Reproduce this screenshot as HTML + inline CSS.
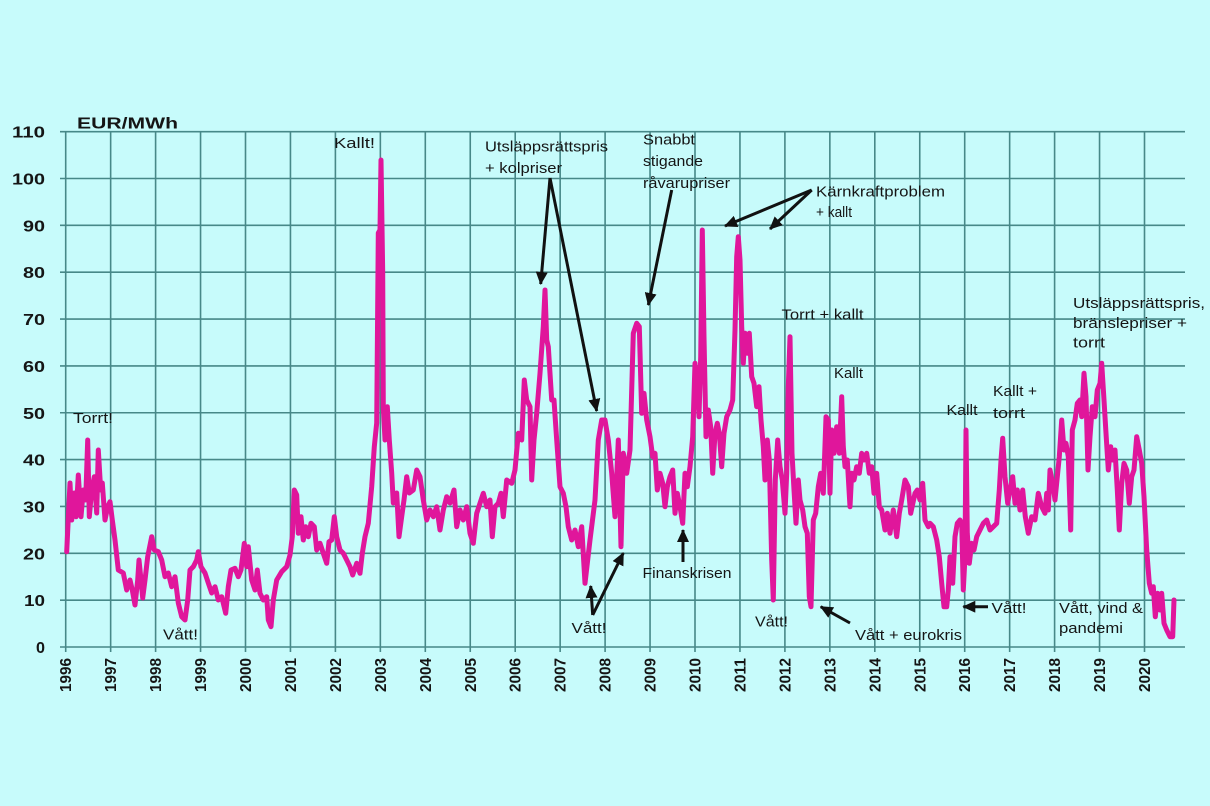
<!DOCTYPE html>
<html><head><meta charset="utf-8"><style>
html,body{margin:0;padding:0;background:#c7fbfb;}
svg{display:block;}
.g{stroke:#478888;stroke-width:1.6;fill:none;}
.a{font-family:"Liberation Sans",sans-serif;font-size:15px;fill:#151515;}
.b{font-family:"Liberation Sans",sans-serif;font-size:16px;font-weight:bold;fill:#151515;}
.ar{stroke:#111;stroke-width:3;fill:none;marker-end:url(#ah);}
</style></head><body>
<svg width="1210" height="806" viewBox="0 0 1210 806" xmlns="http://www.w3.org/2000/svg">
<defs>
<marker id="ah" markerUnits="userSpaceOnUse" markerWidth="14" markerHeight="12" refX="12" refY="6" orient="auto">
<path d="M0,0 L13,6 L0,12 z" fill="#111"/>
</marker>
</defs>
<rect width="1210" height="806" fill="#c7fbfb"/>
<g class="g">
<line x1="60" y1="647" x2="1185" y2="647"/>
<line x1="60" y1="600.15" x2="1185" y2="600.15"/>
<line x1="60" y1="553.3" x2="1185" y2="553.3"/>
<line x1="60" y1="506.45" x2="1185" y2="506.45"/>
<line x1="60" y1="459.6" x2="1185" y2="459.6"/>
<line x1="60" y1="412.75" x2="1185" y2="412.75"/>
<line x1="60" y1="365.9" x2="1185" y2="365.9"/>
<line x1="60" y1="319.05" x2="1185" y2="319.05"/>
<line x1="60" y1="272.2" x2="1185" y2="272.2"/>
<line x1="60" y1="225.35" x2="1185" y2="225.35"/>
<line x1="60" y1="178.5" x2="1185" y2="178.5"/>
<line x1="60" y1="131.65" x2="1185" y2="131.65"/>
<line x1="65.7" y1="131.6" x2="65.7" y2="652"/>
<line x1="110.65" y1="131.6" x2="110.65" y2="652"/>
<line x1="155.6" y1="131.6" x2="155.6" y2="652"/>
<line x1="200.55" y1="131.6" x2="200.55" y2="652"/>
<line x1="245.5" y1="131.6" x2="245.5" y2="652"/>
<line x1="290.45" y1="131.6" x2="290.45" y2="652"/>
<line x1="335.4" y1="131.6" x2="335.4" y2="652"/>
<line x1="380.35" y1="131.6" x2="380.35" y2="652"/>
<line x1="425.3" y1="131.6" x2="425.3" y2="652"/>
<line x1="470.25" y1="131.6" x2="470.25" y2="652"/>
<line x1="515.2" y1="131.6" x2="515.2" y2="652"/>
<line x1="560.15" y1="131.6" x2="560.15" y2="652"/>
<line x1="605.1" y1="131.6" x2="605.1" y2="652"/>
<line x1="650.05" y1="131.6" x2="650.05" y2="652"/>
<line x1="695" y1="131.6" x2="695" y2="652"/>
<line x1="739.95" y1="131.6" x2="739.95" y2="652"/>
<line x1="784.9" y1="131.6" x2="784.9" y2="652"/>
<line x1="829.85" y1="131.6" x2="829.85" y2="652"/>
<line x1="874.8" y1="131.6" x2="874.8" y2="652"/>
<line x1="919.75" y1="131.6" x2="919.75" y2="652"/>
<line x1="964.7" y1="131.6" x2="964.7" y2="652"/>
<line x1="1009.65" y1="131.6" x2="1009.65" y2="652"/>
<line x1="1054.6" y1="131.6" x2="1054.6" y2="652"/>
<line x1="1099.55" y1="131.6" x2="1099.55" y2="652"/>
<line x1="1144.5" y1="131.6" x2="1144.5" y2="652"/>
</g>

<!-- Y labels -->
<g class="b" text-anchor="end">
<text x="45" y="653" textLength="9" lengthAdjust="spacingAndGlyphs">0</text>
<text x="45" y="606.2" textLength="21" lengthAdjust="spacingAndGlyphs">10</text>
<text x="45" y="559.3" textLength="22" lengthAdjust="spacingAndGlyphs">20</text>
<text x="45" y="512.5" textLength="22" lengthAdjust="spacingAndGlyphs">30</text>
<text x="45" y="465.6" textLength="22" lengthAdjust="spacingAndGlyphs">40</text>
<text x="45" y="418.8" textLength="22" lengthAdjust="spacingAndGlyphs">50</text>
<text x="45" y="371.9" textLength="22" lengthAdjust="spacingAndGlyphs">60</text>
<text x="45" y="325.1" textLength="22" lengthAdjust="spacingAndGlyphs">70</text>
<text x="45" y="278.2" textLength="22" lengthAdjust="spacingAndGlyphs">80</text>
<text x="45" y="231.4" textLength="22" lengthAdjust="spacingAndGlyphs">90</text>
<text x="45" y="184.5" textLength="33" lengthAdjust="spacingAndGlyphs">100</text>
<text x="45" y="137.7" textLength="33" lengthAdjust="spacingAndGlyphs">110</text>
</g>
<text class="b" x="77" y="128.5" textLength="101" lengthAdjust="spacingAndGlyphs">EUR/MWh</text>

<!-- X labels -->
<g class="b">
<text transform="translate(71.2,692) rotate(-90)" textLength="34" lengthAdjust="spacingAndGlyphs">1996</text>
<text transform="translate(116.15,692) rotate(-90)" textLength="34" lengthAdjust="spacingAndGlyphs">1997</text>
<text transform="translate(161.1,692) rotate(-90)" textLength="34" lengthAdjust="spacingAndGlyphs">1998</text>
<text transform="translate(206.05,692) rotate(-90)" textLength="34" lengthAdjust="spacingAndGlyphs">1999</text>
<text transform="translate(251,692) rotate(-90)" textLength="34" lengthAdjust="spacingAndGlyphs">2000</text>
<text transform="translate(295.95,692) rotate(-90)" textLength="34" lengthAdjust="spacingAndGlyphs">2001</text>
<text transform="translate(340.9,692) rotate(-90)" textLength="34" lengthAdjust="spacingAndGlyphs">2002</text>
<text transform="translate(385.85,692) rotate(-90)" textLength="34" lengthAdjust="spacingAndGlyphs">2003</text>
<text transform="translate(430.8,692) rotate(-90)" textLength="34" lengthAdjust="spacingAndGlyphs">2004</text>
<text transform="translate(475.75,692) rotate(-90)" textLength="34" lengthAdjust="spacingAndGlyphs">2005</text>
<text transform="translate(520.7,692) rotate(-90)" textLength="34" lengthAdjust="spacingAndGlyphs">2006</text>
<text transform="translate(565.65,692) rotate(-90)" textLength="34" lengthAdjust="spacingAndGlyphs">2007</text>
<text transform="translate(610.6,692) rotate(-90)" textLength="34" lengthAdjust="spacingAndGlyphs">2008</text>
<text transform="translate(655.55,692) rotate(-90)" textLength="34" lengthAdjust="spacingAndGlyphs">2009</text>
<text transform="translate(700.5,692) rotate(-90)" textLength="34" lengthAdjust="spacingAndGlyphs">2010</text>
<text transform="translate(745.45,692) rotate(-90)" textLength="34" lengthAdjust="spacingAndGlyphs">2011</text>
<text transform="translate(790.4,692) rotate(-90)" textLength="34" lengthAdjust="spacingAndGlyphs">2012</text>
<text transform="translate(835.35,692) rotate(-90)" textLength="34" lengthAdjust="spacingAndGlyphs">2013</text>
<text transform="translate(880.3,692) rotate(-90)" textLength="34" lengthAdjust="spacingAndGlyphs">2014</text>
<text transform="translate(925.25,692) rotate(-90)" textLength="34" lengthAdjust="spacingAndGlyphs">2015</text>
<text transform="translate(970.2,692) rotate(-90)" textLength="34" lengthAdjust="spacingAndGlyphs">2016</text>
<text transform="translate(1015.15,692) rotate(-90)" textLength="34" lengthAdjust="spacingAndGlyphs">2017</text>
<text transform="translate(1060.1,692) rotate(-90)" textLength="34" lengthAdjust="spacingAndGlyphs">2018</text>
<text transform="translate(1105.05,692) rotate(-90)" textLength="34" lengthAdjust="spacingAndGlyphs">2019</text>
<text transform="translate(1150,692) rotate(-90)" textLength="34" lengthAdjust="spacingAndGlyphs">2020</text>
</g>

<!-- Series -->
<polyline fill="none" stroke="#e0169b" stroke-width="5" stroke-linejoin="round" stroke-linecap="round" points="
66.7,551.7 70,483 71.7,520 74.3,493 76,516.7 78.3,475 81,516.7 83.3,490 85.7,500 87.7,440 89.3,516.7 91.7,490 94.3,476.7 96.7,513 98.3,450 100.7,490 102.3,483 105,520 107.7,506.7 110,501.7 112.3,520 115,540 118.3,570 123.3,573 126.7,590 130,580 132.3,590 135,605 137.7,580 139,560 141,580 142.7,598 145,580 147.7,556.7 151.7,536.7 154.3,550 158.3,551.7 161.7,560 165,576.7 168.3,573 171.7,586.7 175,576.7 178.3,603 181.7,616.7 185,620 187.7,600 190,570 193.3,566.7 196.7,560 198.3,551.7 201,566.7 205,573 208.3,583 211.7,593 215,586.7 218.3,600 221.7,596.7 225.7,613.3 228.3,586.7 231,570 235,568.3 238.3,576.7 241,570 244.3,543.3 246.7,566.7 248.3,546.7 251.7,580 255,590 257.3,570 260,593.3 263.3,600 266.7,596.7 268.3,620 271,626.7 273.3,600 276.7,580 281.7,571.7 286.7,566.7 290,555 292.3,536.7 294.3,490 296.7,495 298.3,533.3 301,516.7 303.3,540 305.7,526.7 308.3,536.7 311,523.3 314.3,526.7 316.7,550 320,543.3 323.3,553.3 326.7,563.3 329,541.7 331.7,540 334.3,516.7 336.7,536.7 340,550 343.3,553.3 346.7,560 350,566.7 352.7,575 356.7,563.3 360,573.3
362.3,553.3 365,536.7 368.3,523.3 371.7,486.7 374.3,446.7 376.7,423 378.3,233 380,230 381,160 382.7,273 383.3,406.7 385,440 387.3,406.7 389.3,440 391.7,473 393.3,503 396.7,493 399,536.7 401.7,516.7 404,500 406.7,476.7 409.3,493 413.3,490 416.7,470 420,476.7 423.3,500 426.7,520 430,510 433.3,516.7 436.7,506.7 440,530 443.3,510 446.7,496.7 450,503 454,490 456.7,526.7 460,510 463.3,520 466.7,506.7 470,533.3 473.3,543.3 476.7,513.3 480,503.3 483.3,493.3 486.7,506.7 490,500 492.3,536.7 495,506.7 498.3,503.3 501,493.3 503.3,516.7 506.7,480 511.7,483.3 515,470 518.3,433.3 521.7,440 524.3,380 526.7,400 530,406.7 531.7,480 534,440 536.7,413.3 540,373.3 543.3,326.7 545,290 546.7,340 548.3,346.7 551.7,400 554,400 556.7,440 560,486.7 563.3,493.3 566,506.7 568.3,526.7 571.7,540 575,530 578.3,546.7 581.7,526.7 585,583.3 587.3,563.3 590,540 595,500 598.3,440 601.7,420 605,420 608.3,440 611.7,473.3 615,516.7 618.3,440 621,546.7 623.3,453.3 626.7,473.3 630,450
633.3,333.3 636.7,323.3 639.3,326.7 641.7,413.3 644,393.3 646.7,420 650,436.7 652.7,456.7 655,453.3 657.3,490 660,473.3 662.7,483.3 665,506.7 667.3,486.7 670,476.7 672.7,470 675,513.3 677.3,493.3 680,506.7 682.7,523.3 685,473.3 687.3,486.7 690,466.7 692.7,436.7 695,363.3 697.3,386.7 699,416.7 700.7,356.7 702.3,230 704,336.7 706,436.7 708.3,410 710.7,426.7 712.7,473.3 715,433.3 717.3,423.3 719.3,433.3 721.7,466.7 724,433.3 726.7,416.7 730,410 732.7,400 735,330 736.7,256.7 738.3,236.7 740,260 741.7,326.7 743.3,363.3 745,333.3 747.3,353.3 749.3,333.3 751.7,376.7 754,383.3 756.7,406.7 759,386.7 761,420 763.3,446.7 765,480 767.3,440 769.3,460 771.7,560 773.3,600 775.3,480 777.7,440 780,466.7 782.3,480 785,513.3 786.7,473.3 788.3,386.7 790,336.7 792,453.3 794,490 796,523.3 798.3,480 800,500 802.7,510 805,526.7 807.3,533.3 809.3,596.7 811,606.7 813.3,520 815.7,513.3 818.3,486.7 820.7,473.3 823.3,493.3 826,416.7 828.3,420 830,493.3 831.7,430 834,453.3 836.7,426.7 839.3,453.3 841.7,396.7 843.3,446.7 845,466.7 847.3,460 850,506.7 851.7,473.3 854,480 856.7,466.7 859.3,473.3 861.7,453.3 864,460 866.7,453.3 869.3,473.3 871.7,466.7 874,493.3 876.7,473.3 879.3,506.7 881.7,510 885,530 887.3,513.3 890,533.3 893.3,510 896.7,536.7 899.3,513.3 901.7,500 905,480 908.3,486.7 910.7,513.3 915,493.3 917.3,490 920,500 922.7,483.3 925,520 928.3,526.7
930,523.3 933.3,526.7 936.7,540 939.3,556.7 941.7,583.3 944,606.7 946.7,606.7 948.3,590 950,556.7 952.7,583.3 955,536.7 957.3,523.3 960,520 961.7,523.3 963.3,590 965,556.7 966,430 967.3,533.3 969.3,563.3 971.7,543.3 974,550 976.7,536.7 980,530 983.3,523.3 986.7,520 990,530 993.3,526.7 996.7,523.3 999.3,490 1001,460 1002.7,438.3 1005,476.7 1007.7,503.3 1010,490 1012.7,476.7 1015,503.3 1017.3,490 1020,510 1022.7,490 1025.3,516.7 1028.3,533.3 1031.7,516.7 1035,520 1038.3,493.3 1041.7,506.7 1045,513.3 1046.7,493.3 1048.3,510 1050,470 1052.7,483.3 1055,500 1057.3,476.7 1059.3,456.7 1061.7,420 1064,450 1066,443.3 1068.3,456.7 1070.7,530 1072.3,430 1075,420 1077.3,403.3 1080,400 1081.7,416.7 1084,373.3 1086,396.7 1088,470 1090,436.7 1092.3,406.7 1095,416.7 1097.3,390 1100,383.3 1101.7,363.3 1104,400 1106,433.3 1108.3,470 1110.7,446.7 1112.7,460 1115,450 1117.3,490 1119.3,530 1121.7,483.3 1124,463.3 1126.7,470 1129.3,503.3 1131.7,476.7 1134,470 1136.7,436.7 1139.3,450 1141.7,463.3 1144,496.7 1146.7,550 1149.3,583.3 1151.7,593.3 1153.3,586.7 1155.3,616.7 1157.7,593.3 1160,610 1161.7,593.3 1164,623.3 1166.7,630 1170,636.7 1172.7,636.7 1174,600"/>

<!-- Arrows -->
<line class="ar" x1="550" y1="178" x2="540.7" y2="284"/>
<line class="ar" x1="550" y1="178" x2="596.7" y2="411"/>
<line class="ar" x1="671.7" y1="190" x2="648.3" y2="305"/>
<line class="ar" x1="811.7" y1="190" x2="725" y2="226"/>
<line class="ar" x1="811.7" y1="190" x2="770" y2="229"/>
<line class="ar" x1="592.7" y1="615" x2="590.7" y2="586"/>
<line class="ar" x1="592.7" y1="615" x2="623.3" y2="553"/>
<line class="ar" x1="683" y1="562" x2="683" y2="530"/>
<line class="ar" x1="850" y1="623" x2="820.7" y2="606.7"/>
<line class="ar" x1="988" y1="606.7" x2="963.3" y2="606.7"/>

<!-- Annotations -->
<g class="a">
<text x="73" y="423" textLength="40" lengthAdjust="spacingAndGlyphs">Torrt!</text>
<text x="334" y="148" textLength="41" lengthAdjust="spacingAndGlyphs">Kallt!</text>
<text x="163" y="639.5" textLength="35" lengthAdjust="spacingAndGlyphs">Vått!</text>
<text x="485" y="151.5" textLength="123" lengthAdjust="spacingAndGlyphs">Utsläppsrättspris</text>
<text x="485" y="173" textLength="77" lengthAdjust="spacingAndGlyphs">+ kolpriser</text>
<text x="643" y="144.5" textLength="52" lengthAdjust="spacingAndGlyphs">Snabbt</text>
<text x="643" y="166" textLength="60" lengthAdjust="spacingAndGlyphs">stigande</text>
<text x="643" y="188" textLength="87" lengthAdjust="spacingAndGlyphs">råvarupriser</text>
<text x="816" y="196.5" textLength="129" lengthAdjust="spacingAndGlyphs">Kärnkraftproblem</text>
<text x="816" y="217" textLength="36" lengthAdjust="spacingAndGlyphs">+ kallt</text>
<text x="781.5" y="319.5" textLength="82" lengthAdjust="spacingAndGlyphs">Torrt + kallt</text>
<text x="834" y="378" textLength="29" lengthAdjust="spacingAndGlyphs">Kallt</text>
<text x="642.5" y="578" textLength="89" lengthAdjust="spacingAndGlyphs">Finanskrisen</text>
<text x="571.5" y="633" textLength="35" lengthAdjust="spacingAndGlyphs">Vått!</text>
<text x="755" y="626.5" textLength="33" lengthAdjust="spacingAndGlyphs">Vått!</text>
<text x="855" y="640" textLength="107" lengthAdjust="spacingAndGlyphs">Vått + eurokris</text>
<text x="991.5" y="613" textLength="35" lengthAdjust="spacingAndGlyphs">Vått!</text>
<text x="1059" y="613" textLength="84" lengthAdjust="spacingAndGlyphs">Vått, vind &amp;</text>
<text x="1059" y="633" textLength="64" lengthAdjust="spacingAndGlyphs">pandemi</text>
<text x="946.5" y="415" textLength="31" lengthAdjust="spacingAndGlyphs">Kallt</text>
<text x="993" y="396" textLength="44" lengthAdjust="spacingAndGlyphs">Kallt +</text>
<text x="993" y="418" textLength="32" lengthAdjust="spacingAndGlyphs">torrt</text>
<text x="1073" y="308" textLength="132" lengthAdjust="spacingAndGlyphs">Utsläppsrättspris,</text>
<text x="1073" y="328" textLength="114" lengthAdjust="spacingAndGlyphs">bränslepriser +</text>
<text x="1073" y="347.5" textLength="32" lengthAdjust="spacingAndGlyphs">torrt</text>
</g>
</svg>
</body></html>
